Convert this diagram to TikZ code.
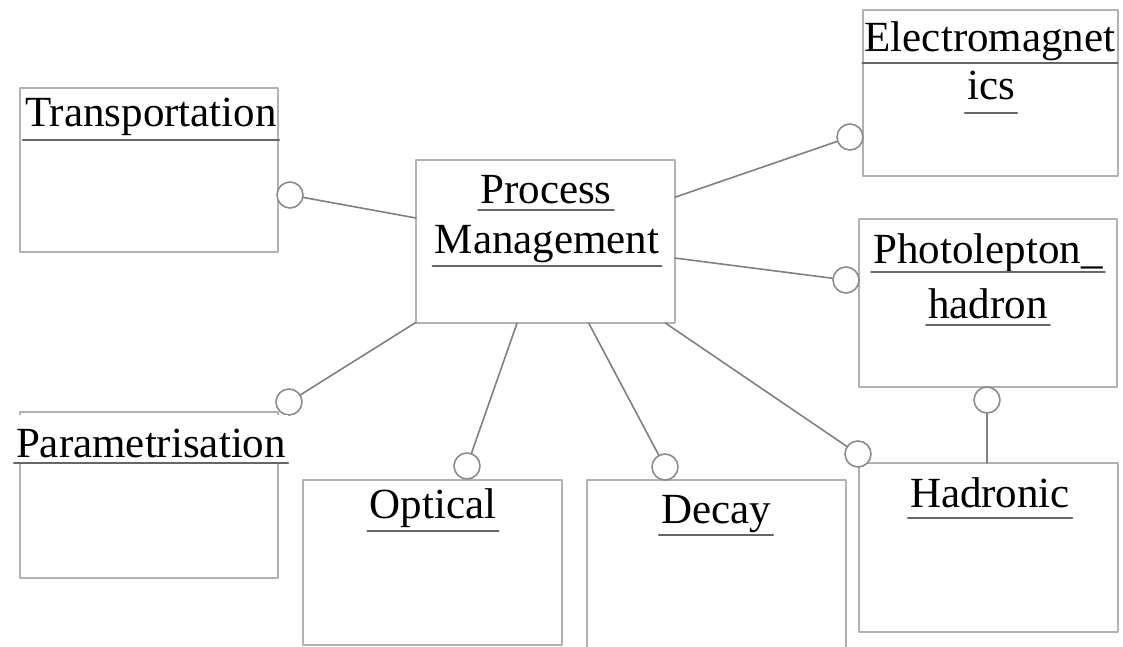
\documentclass[tikz,border=0pt]{standalone}
\usepackage{fontspec}
\setmainfont{Liberation Serif}
\newcommand\utitle[5][]{%
	\node[ttl,#1] (#2) at (#3) {#4};
	\draw[uline] ([yshift=-#5pt]#2.base west) -- ([yshift=-#5pt]#2.base east);}
\begin{document}
\begin{tikzpicture}[x=1pt,y=-1pt,line join=round,line cap=round,
	umlbox/.style={draw=black!30,line width=2.4pt,anchor=north west,inner sep=0pt,outer sep=0pt},
	lolli/.style={circle,draw=black!45,line width=1.6pt,fill=white,minimum size=26pt,inner sep=0pt},
	link/.style={draw=black!50,line width=1.6pt},
	ttl/.style={anchor=base,inner xsep=2pt,inner ysep=0pt,font=\fontsize{43}{47}\selectfont},
	uline/.style={draw=black!60,line width=2.2pt}]
		\clip (0,0) rectangle (1123,647);
		\node[umlbox,minimum width=258pt,minimum height=164pt] (tr) at (20,88) {};
		\node[umlbox,minimum width=259pt,minimum height=163pt] (pm) at (416,160) {};
		\node[umlbox,minimum width=255pt,minimum height=166pt] (em) at (863,10) {};
		\node[umlbox,minimum width=258pt,minimum height=168pt] (ph) at (859,219) {};
		\node[umlbox,minimum width=258pt,minimum height=166pt] (pa) at (20,412) {};
		\node[umlbox,minimum width=259pt,minimum height=165pt] (op) at (303,480) {};
		\node[umlbox,minimum width=259pt,minimum height=190pt] (de) at (587,480) {};
		\node[umlbox,minimum width=259pt,minimum height=169pt] (ha) at (859,463) {};
		
		\node[lolli] (ctr) at (290,195) {};
		\node[lolli] (cem) at (850,137) {};
		\node[lolli] (cph) at (846,280) {};
		\node[lolli] (cpa) at (289,402) {};
		\node[lolli] (cop) at (467,466) {};
		\node[lolli] (cde) at (665,467) {};
		\node[lolli] (cha) at (858,454) {};
		\node[lolli] (cph2) at (987,400) {};
		
		\draw[link] (pm) -- (ctr);
		\draw[link] (pm) -- (cem);
		\draw[link] (pm) -- (cph);
		\draw[link] (pm) -- (cpa);
		\draw[link] (pm) -- (cop);
		\draw[link] (pm) -- (cde);
		\draw[link] (pm) -- (cha);
		\draw[link] (cph2) -- (cph2 |- ha.north);
		
		\utitle{trT}{151,127}{Transportation}{13}
		\utitle{pmA}{546,203}{Process}{7}
		\utitle{pmB}{547,253}{Management}{13}
		\utitle{emA}{990,52}{Electromagnet}{11}
		\utitle{emB}{991,100}{ics}{13}
		\utitle{phA}{988,263}{Photolepton\_}{9}
		\utitle{phB}{988,318}{hadron}{7}
		\utitle[fill=white,text height=42pt,text depth=5pt]{paT}{151,457}{Parametrisation}{6}
		\utitle{opT}{433,518}{Optical}{13}
		\utitle{deT}{716,523}{Decay}{12}
		\utitle{haT}{990,507}{Hadronic}{11}
\end{tikzpicture}
\end{document}
